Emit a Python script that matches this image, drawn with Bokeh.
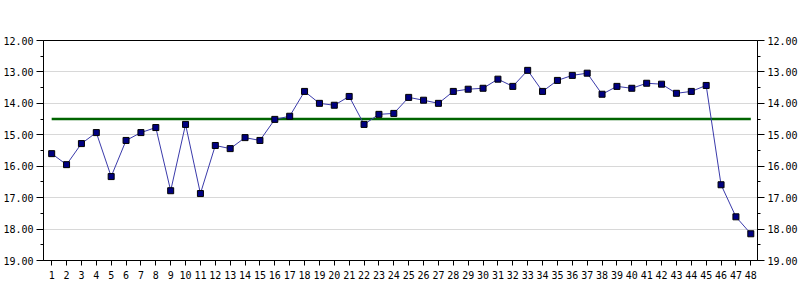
from bokeh.plotting import figure
from bokeh.models import Range1d, FixedTicker, PrintfTickFormatter, LinearAxis
from bokeh.embed import file_html
from bokeh.resources import INLINE

samples = list(range(1, 49))
values = [15.60, 15.95, 15.28, 14.93, 16.33, 15.18, 14.93, 14.77, 16.78, 14.67,
          16.87, 15.34, 15.44, 15.09, 15.18, 14.51, 14.41, 13.62, 14.00, 14.06,
          13.78, 14.67, 14.35, 14.32, 13.81, 13.90, 14.00, 13.62, 13.55, 13.52,
          13.23, 13.46, 12.95, 13.62, 13.27, 13.11, 13.04, 13.71, 13.46, 13.52,
          13.36, 13.39, 13.68, 13.62, 13.43, 16.59, 17.61, 18.15]
target = 14.5
y_ticks = [12, 13, 14, 15, 16, 17, 18, 19]
y_minor = [12.5, 13.5, 14.5, 15.5, 16.5, 17.5, 18.5]

FONT = "DejaVu Sans Mono"

p = figure(width=800, height=300, output_backend="svg", toolbar_location=None,
           x_range=Range1d(0.45, 48.45), y_range=Range1d(19, 12),
           min_border_left=40, min_border_right=40, min_border_top=40, min_border_bottom=40)
p.background_fill_color = "white"
p.border_fill_color = "white"
p.outline_line_color = "black"
p.outline_line_width = 1

yt = FixedTicker(ticks=y_ticks, minor_ticks=y_minor)
xt = FixedTicker(ticks=samples, minor_ticks=[])

p.xaxis.ticker = xt
p.yaxis.ticker = yt
p.yaxis.formatter = PrintfTickFormatter(format="%.2f")

ry = LinearAxis(ticker=yt, formatter=PrintfTickFormatter(format="%.2f"))
p.add_layout(ry, "right")

for ax in p.axis:
    ax.axis_line_color = "black"
    ax.major_tick_line_color = "black"
    ax.minor_tick_line_color = "black"
    ax.major_label_text_font = FONT
    ax.major_label_text_font_size = "10px"
    ax.major_label_text_color = "black"
    ax.major_tick_in = 0
    ax.minor_tick_in = 0

for ax in p.yaxis:
    ax.major_tick_out = 7
    ax.minor_tick_out = 3
    ax.major_label_standoff = 3
for ax in p.xaxis:
    ax.major_tick_out = 5
    ax.minor_tick_out = 0
    ax.major_label_standoff = 5

p.xgrid.visible = False
p.ygrid.ticker = yt
p.ygrid.grid_line_color = "#d8d8d8"
p.ygrid.grid_line_width = 1

p.line([samples[0], samples[-1]], [target, target], line_color="#006400", line_width=2.5)
p.line(samples, values, line_color="#3a3aaa", line_width=1)
p.scatter(samples, values, marker="square", size=6, fill_color="#000080", line_color="black", line_width=1)

open("out.html", "w").write(file_html(p, INLINE))
